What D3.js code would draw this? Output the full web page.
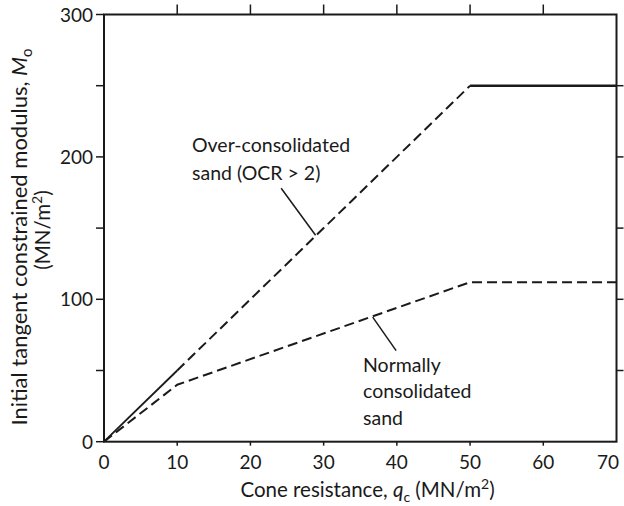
<!DOCTYPE html>
<html>
<head>
<meta charset="utf-8">
<script src="https://cdn.jsdelivr.net/npm/d3@7"></script>
<style>
  body { margin: 0; background: #fff; }
  text { font-family: Lato, "Open Sans", sans-serif; fill: #1a1a1a; }
</style>
</head>
<body>
<svg width="624" height="506"></svg>
<script>
// data
var xTicks = [0, 10, 20, 30, 40, 50, 60, 70];
var yTicks = [0, 100, 200, 300];
var yMinor = [50, 150, 250];

// over-consolidated sand: solid start, dashed rise, solid plateau
var ocSolidStart = [[0, 0], [10, 50]];
var ocDashed = [[10, 50], [50, 250]];
var ocPlateau = [[50, 250], [70, 250]];

// normally consolidated sand (all dashed)
var ncLine = [[0, 0], [10, 40], [50, 112], [70, 112]];

// leader lines: [from text, to curve]
var ocLeader = [[24.2, 178], [28.9, 145]];
var ncLeader = [[36.7, 87.5], [39.9, 64]];

var svg = d3.select("svg"),
    width = +svg.attr("width"),
    height = +svg.attr("height");

var margin = {left: 104, top: 14.5, right: 7.5, bottom: 64.3};

var x = d3.scaleLinear().domain([0, 70]).range([margin.left, width - margin.right]);
var y = d3.scaleLinear().domain([0, 300]).range([height - margin.bottom, margin.top]);

var ink = "#1a1a1a";

//frame
var g = svg.append("g");
g.append("rect")
    .attr("x", x(0)).attr("y", y(300))
    .attr("width", x(70) - x(0)).attr("height", y(0) - y(300))
    .attr("fill", "none").attr("stroke", ink).attr("stroke-width", 2);

//ticks - left (outward)
g.selectAll(".lt").data(yTicks.concat(yMinor)).enter().append("line")
    .attr("x1", x(0) - 8).attr("x2", x(0))
    .attr("y1", function (d) { return y(d); }).attr("y2", function (d) { return y(d); })
    .attr("stroke", ink).attr("stroke-width", 1.5);

//ticks - right (outward)
g.selectAll(".rt").data([50, 100, 150, 200, 250]).enter().append("line")
    .attr("x1", x(70)).attr("x2", x(70) + 7)
    .attr("y1", function (d) { return y(d); }).attr("y2", function (d) { return y(d); })
    .attr("stroke", ink).attr("stroke-width", 1.5);

//ticks - top (upward)
g.selectAll(".tt").data(xTicks.slice(1, 7)).enter().append("line")
    .attr("x1", function (d) { return x(d); }).attr("x2", function (d) { return x(d); })
    .attr("y1", y(300) - 10).attr("y2", y(300))
    .attr("stroke", ink).attr("stroke-width", 1.5);

//ticks - bottom (downward, short)
g.selectAll(".bt").data(xTicks.slice(1, 7)).enter().append("line")
    .attr("x1", function (d) { return x(d); }).attr("x2", function (d) { return x(d); })
    .attr("y1", y(0)).attr("y2", y(0) + 4)
    .attr("stroke", ink).attr("stroke-width", 1.5);

//tick labels (last one pulled in so it stays on the page)
g.selectAll(".xl").data(xTicks).enter().append("text")
    .attr("x", function (d) { return d == 70 ? width - 5 : x(d); })
    .attr("y", y(0) + 27)
    .attr("text-anchor", function (d) { return d == 70 ? "end" : "middle"; })
    .style("font-size", "19px")
    .text(function (d) { return d; });

g.selectAll(".yl").data(yTicks).enter().append("text")
    .attr("x", x(0) - 11)
    .attr("y", function (d) { return y(d) + 7; })
    .attr("text-anchor", "end")
    .style("font-size", "19px")
    .text(function (d) { return d; });

//axis titles
var xt = g.append("text")
    .attr("x", x(36))
    .attr("y", height - 9)
    .attr("text-anchor", "middle")
    .style("font-size", "20.5px");
xt.append("tspan").text("Cone resistance, ");
xt.append("tspan").style("font-style", "italic").text("q");
xt.append("tspan").attr("dy", 5).style("font-size", "14px").text("c");
xt.append("tspan").attr("dy", -5).text(" (MN/m");
xt.append("tspan").attr("dy", -8).style("font-size", "14px").text("2");
xt.append("tspan").attr("dy", 8).text(")");

var yt = g.append("text")
    .attr("transform", "translate(27," + 237 + ") rotate(-90)")
    .attr("text-anchor", "middle")
    .style("font-size", "22px");
yt.append("tspan").text("Initial tangent constrained modulus, ");
yt.append("tspan").style("font-style", "italic").text("M");
yt.append("tspan").attr("dy", 5).style("font-size", "15px").text("o");

var yt2 = g.append("text")
    .attr("transform", "translate(50," + 230 + ") rotate(-90)")
    .attr("text-anchor", "middle")
    .style("font-size", "20.5px");
yt2.append("tspan").text("(MN/m");
yt2.append("tspan").attr("dy", -8).style("font-size", "14px").text("2");
yt2.append("tspan").attr("dy", 8).text(")");

//curves
var line = d3.line()
    .x(function (d) { return x(d[0]); })
    .y(function (d) { return y(d[1]); });

g.append("path").datum(ocSolidStart).attr("d", line)
    .attr("fill", "none").attr("stroke", ink).attr("stroke-width", 1.8);
g.append("path").datum(ocDashed).attr("d", line)
    .attr("fill", "none").attr("stroke", ink).attr("stroke-width", 2)
    .attr("stroke-dasharray", "10,5");
g.append("path").datum(ocPlateau).attr("d", line)
    .attr("fill", "none").attr("stroke", ink).attr("stroke-width", 2.5);
g.append("path").datum(ncLine).attr("d", line)
    .attr("fill", "none").attr("stroke", ink).attr("stroke-width", 2)
    .attr("stroke-dasharray", "10,5");

//leaders
[ocLeader, ncLeader].forEach(function (l) {
    g.append("path").datum(l).attr("d", line)
        .attr("fill", "none").attr("stroke", ink).attr("stroke-width", 1.5);
});

//annotations
function label(lines, px, py, step) {
    var t = g.append("text").attr("x", px).attr("y", py).style("font-size", "19.5px");
    lines.forEach(function (s, i) {
        t.append("tspan").attr("x", px).attr("y", py + i * step).text(s);
    });
}
label(["Over-consolidated", "sand (OCR > 2)"], 192, 152, 27.6);
label(["Normally", "consolidated", "sand"], 363, 372, 26.3);
</script>
</body>
</html>
